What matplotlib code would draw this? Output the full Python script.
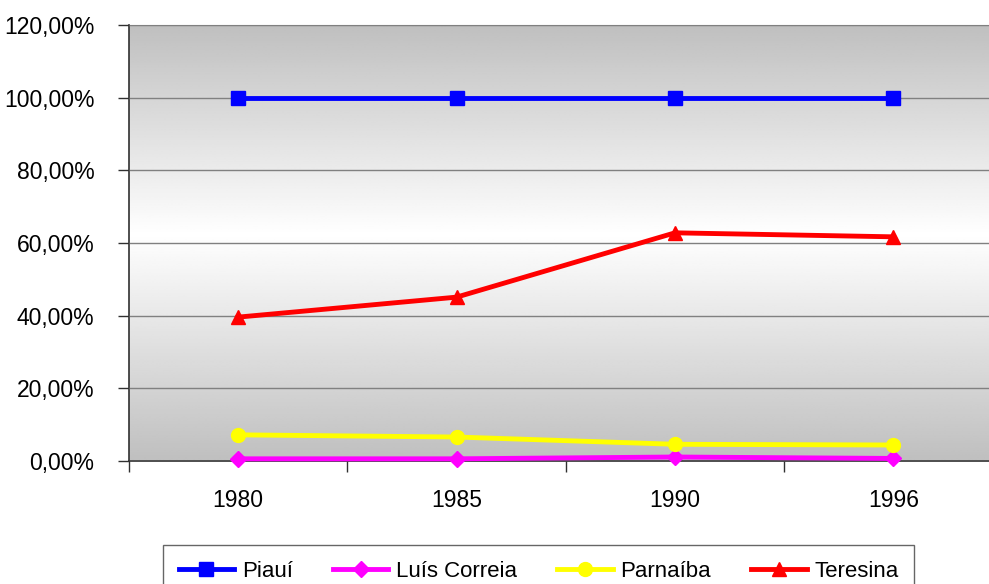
import numpy as np
import matplotlib.pyplot as plt

years = ['1980', '1985', '1990', '1996']
piaui = [100.0, 100.0, 100.0, 100.0]
luis_correia = [0.6, 0.6, 1.1, 0.7]
parnaiba = [7.2, 6.6, 4.6, 4.4]
teresina = [39.6, 45.1, 62.8, 61.7]

plt.rcParams['font.family'] = ['Liberation Sans', 'DejaVu Sans']

fig = plt.figure(figsize=(9.89, 5.84), dpi=100)
ax = fig.add_axes([129 / 989, 1 - 461 / 584, 873.5 / 989, 436 / 584])

x = np.arange(len(years))
ax.set_xlim(-0.5, len(years) - 0.5)
ax.set_ylim(0, 120)

# gray-white-gray background gradient
t = np.linspace(0, 1, 256)
shade = np.interp(t, [0, 0.52, 1], [0.75, 1.0, 0.75])
grad = np.repeat(shade[:, None], 2, axis=1)
ax.imshow(grad, extent=[-0.5, len(years) - 0.5, 0, 120], origin='lower',
          aspect='auto', zorder=0, interpolation='bilinear',
          cmap='gray', vmin=0, vmax=1)

ax.set_yticks(np.arange(0, 121, 20))
ax.set_yticklabels(['%d,00%%' % v for v in range(0, 121, 20)], fontsize=16.5)
ax.yaxis.grid(True, color='#808080', linewidth=1)
ax.set_axisbelow(False)

ax.set_xticks(x)
ax.set_xticklabels(years, fontsize=16.5)
ax.set_xticks(np.arange(-0.5, len(years), 1), minor=True)
ax.tick_params(axis='x', which='major', length=0, pad=20)
ax.tick_params(axis='x', which='minor', length=8, width=1, color='#303030')
ax.tick_params(axis='y', length=8, width=1, color='#303030', pad=17)

for s in ['left', 'bottom']:
    ax.spines[s].set_color('#303030')
    ax.spines[s].set_linewidth(1.2)
ax.spines['top'].set_color('#808080')
ax.spines['right'].set_visible(False)

lw = 3.5
ax.plot(x, piaui, color='#0000ff', marker='s', markersize=10, linewidth=lw, label='Piauí', zorder=3)
ax.plot(x, luis_correia, color='#ff00ff', marker='D', markersize=8, linewidth=lw, label='Luís Correia', zorder=3)
ax.plot(x, parnaiba, color='#ffff00', marker='o', markersize=10, linewidth=lw, label='Parnaíba', zorder=3)
ax.plot(x, teresina, color='#ff0000', marker='^', markersize=10, linewidth=lw, label='Teresina', zorder=3)

for line in ax.lines:
    line.set_clip_on(False)

leg = fig.legend(loc='upper left', bbox_to_anchor=(163 / 989, 1 - 545 / 584),
                 ncol=4, fontsize=16, frameon=True, fancybox=False,
                 handlelength=2.5, handletextpad=0.35, columnspacing=1.8,
                 borderpad=0.7, borderaxespad=0)
leg.get_frame().set_edgecolor('#404040')
leg.get_frame().set_linewidth(1)

fig.savefig('out.png', dpi=100)
